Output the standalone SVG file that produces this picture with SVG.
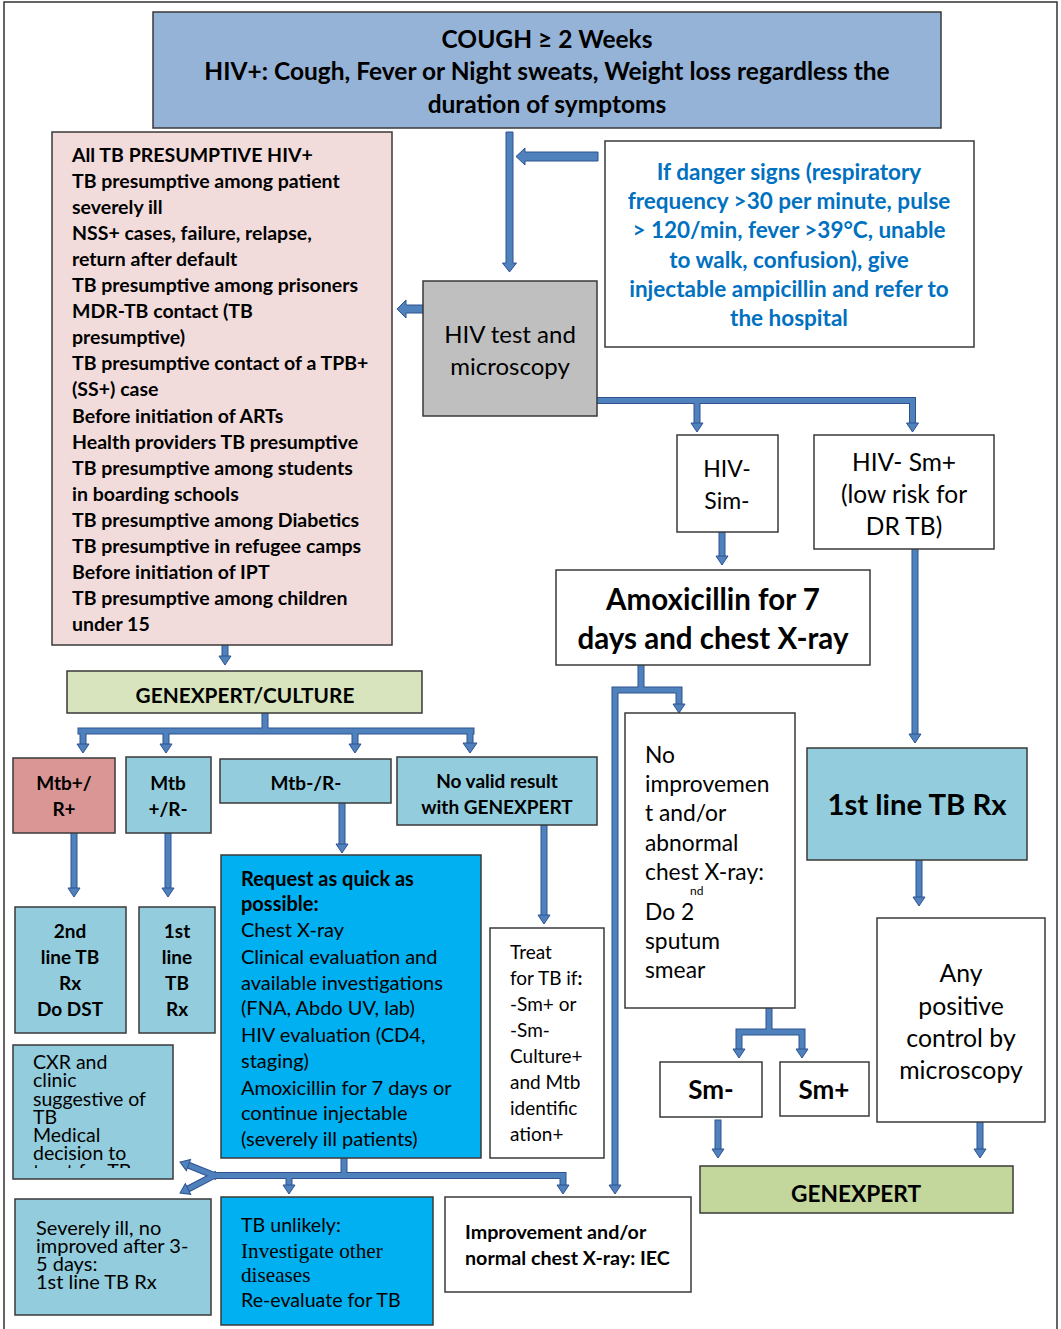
<svg xmlns="http://www.w3.org/2000/svg" xmlns:xlink="http://www.w3.org/1999/xlink" width="1061" height="1329" viewBox="0 0 1061 1329">
  <style>
    .box { stroke: #3a3a3a; stroke-width: 1.5; }
    .white { fill: #ffffff; }
    .steel { fill: #95b3d7; }
    .pink { fill: #f2dcdb; }
    .grey { fill: #bfbfbf; }
    .olive { fill: #d7e4bd; }
    .rose { fill: #d99694; }
    .aqua { fill: #93cddd; }
    .cyan { fill: #00b0f0; }
    .lime { fill: #c3d69b; }
    text { font-family: Lato, "Open Sans", "Liberation Sans", sans-serif; fill: #000; }
    .b { font-weight: bold; }
    .c { text-anchor: middle; }
    .serif { font-family: "Liberation Serif", "Times New Roman", serif; }
    .danger { fill: #0070c0; font-weight: bold; font-size: 22.5px; text-anchor: middle; }
    .wire-edge { fill: none; stroke: #2f528f; stroke-width: 7; stroke-linecap: square; }
    .wire-fill { fill: none; stroke: #4f81bd; stroke-width: 5; stroke-linecap: square; }
    .head, .block { fill: #4f81bd; stroke: #2f528f; stroke-width: 1; stroke-linejoin: miter; }
  </style>
  <defs>
    <path id="hd" d="M-6,-9 H6 L0,0 Z"/>
    <path id="hdw" d="M-7,-10 H7 L0,0 Z"/>
    <path id="wires" d="
      M597 400.5 H912.5 V423 M697 400.5 V423
      M722 535 V556
      M915 549 V734
      M641 665 V690 M615 690 H679 V704 M615 690 V1185
      M919 860 V897
      M769 1008 V1032 M739 1032 H802 M739 1032 V1049 M802 1032 V1049
      M718 1123 V1149
      M980 1122 V1149
      M225 647 V656
      M265 713 V731 M81 731 H471 M83 731 V744 M166 731 V744 M355 731 V744 M470 731 V743
      M74 835 V888 M168 835 V888
      M342 803 V844
      M544 825 V915
      M344 1158 V1175.5 M216 1175.5 H563 M289 1175.5 V1185 M563 1175.5 V1185
      M214 1175.5 L188 1165 M214 1175.5 L188 1189"/>
    <clipPath id="cxr-clip">
      <rect x="14" y="1046" width="158" height="122"/>
    </clipPath>
  </defs>

  <!-- outer frame -->
  <rect x="4" y="2" width="1053" height="1340" fill="#ffffff" stroke="#333" stroke-width="1.5"/>

  <!-- connectors -->
  <g id="connectors">
    <use href="#wires" class="wire-edge"/>
    <use href="#wires" class="wire-fill"/>
    <polygon class="block" points="506,132 513,132 513,263 516.5,263 509.5,272 502.5,263 506,263"/>
    <polygon class="block" points="598,152 598,161 525,161 525,165 516,156.5 525,148 525,152"/>
    <polygon class="block" points="423,305 423,313 406,313 406,318 397,309 406,300 406,305"/>
    <g class="head">
      <use href="#hd" x="697" y="432"/>
      <use href="#hd" x="912.5" y="432"/>
      <use href="#hd" x="722" y="565"/>
      <use href="#hd" x="915" y="743"/>
      <use href="#hd" x="679" y="713"/>
      <use href="#hd" x="615" y="1194"/>
      <use href="#hd" x="919" y="906"/>
      <use href="#hd" x="739" y="1058"/>
      <use href="#hd" x="802" y="1058"/>
      <use href="#hd" x="718" y="1158"/>
      <use href="#hd" x="980" y="1158"/>
      <use href="#hd" x="225" y="665"/>
      <use href="#hd" x="83" y="753"/>
      <use href="#hd" x="166" y="753"/>
      <use href="#hd" x="355" y="753"/>
      <use href="#hdw" x="470" y="753"/>
      <use href="#hd" x="74" y="897"/>
      <use href="#hd" x="168" y="897"/>
      <use href="#hd" x="342" y="853"/>
      <use href="#hd" x="544" y="924"/>
      <use href="#hd" x="289" y="1194"/>
      <use href="#hd" x="563" y="1194"/>
      <use href="#hd" transform="translate(180,1162) rotate(110.4)"/>
      <use href="#hd" transform="translate(180,1193) rotate(63.4)"/>
    </g>
  </g>

  <!-- nodes -->
  <g id="cough">
    <rect class="box steel" x="153" y="12" width="788" height="116"/>
    <text class="b c" x="547" y="48" font-size="24.5">COUGH ≥ 2 Weeks</text>
    <text class="b c" x="547" y="80" font-size="24.5">HIV+: Cough, Fever or Night sweats, Weight loss regardless the</text>
    <text class="b c" x="547" y="113" font-size="24.5">duration of symptoms</text>
  </g>

  <g id="presumptive">
    <rect class="box pink" x="52" y="132" width="340" height="513"/>
    <g class="b" font-size="19.5">
      <text x="72" y="162">All TB PRESUMPTIVE HIV+</text>
      <text x="72" y="188">TB presumptive among patient</text>
      <text x="72" y="214">severely ill</text>
      <text x="72" y="240">NSS+ cases, failure, relapse,</text>
      <text x="72" y="266">return after default</text>
      <text x="72" y="292">TB presumptive among prisoners</text>
      <text x="72" y="318">MDR-TB contact (TB</text>
      <text x="72" y="344">presumptive)</text>
      <text x="72" y="370">TB presumptive contact of a TPB+</text>
      <text x="72" y="396">(SS+) case</text>
      <text x="72" y="423">Before initiation of ARTs</text>
      <text x="72" y="449">Health providers TB presumptive</text>
      <text x="72" y="475">TB presumptive among students</text>
      <text x="72" y="501">in boarding schools</text>
      <text x="72" y="527">TB presumptive among Diabetics</text>
      <text x="72" y="553">TB presumptive in refugee camps</text>
      <text x="72" y="579">Before initiation of IPT</text>
      <text x="72" y="605">TB presumptive among children</text>
      <text x="72" y="631">under 15</text>
    </g>
  </g>

  <g id="danger-signs">
    <rect class="box white" x="605" y="141" width="369" height="206"/>
    <text class="danger" x="789" y="180">If danger signs (respiratory</text>
    <text class="danger" x="789" y="209">frequency &gt;30 per minute, pulse</text>
    <text class="danger" x="789" y="238">&gt; 120/min, fever &gt;39°C, unable</text>
    <text class="danger" x="789" y="268">to walk, confusion), give</text>
    <text class="danger" x="789" y="297">injectable ampicillin and refer to</text>
    <text class="danger" x="789" y="326">the hospital</text>
  </g>

  <g id="hiv-test">
    <rect class="box grey" x="423" y="281" width="174" height="135"/>
    <text class="c" x="510" y="343" font-size="24">HIV test and</text>
    <text class="c" x="510" y="375" font-size="24">microscopy</text>
  </g>

  <g id="hiv-neg-sm-neg">
    <rect class="box white" x="677" y="435" width="101" height="97"/>
    <text class="c" x="727" y="477" font-size="23">HIV-</text>
    <text class="c" x="727" y="509" font-size="23">Sim-</text>
  </g>

  <g id="hiv-neg-sm-pos">
    <rect class="box white" x="814" y="435" width="180" height="114"/>
    <text class="c" x="904" y="471" font-size="24.5">HIV- Sm+</text>
    <text class="c" x="904" y="503" font-size="24.5">(low risk for</text>
    <text class="c" x="904" y="535" font-size="24.5">DR TB)</text>
  </g>

  <g id="amoxicillin">
    <rect class="box white" x="556" y="570" width="314" height="95"/>
    <text class="b c" x="713" y="610" font-size="29.5">Amoxicillin for 7</text>
    <text class="b c" x="713" y="649" font-size="29.5">days and chest X-ray</text>
  </g>

  <g id="genexpert-culture">
    <rect class="box olive" x="67" y="671" width="355" height="42"/>
    <text class="b c" x="245" y="703" font-size="20.8">GENEXPERT/CULTURE</text>
  </g>

  <g id="mtb-pos-r-pos">
    <rect class="box rose" x="13" y="758" width="102" height="75"/>
    <text class="b c" x="64" y="790" font-size="19">Mtb+/</text>
    <text class="b c" x="64" y="816" font-size="19">R+</text>
  </g>

  <g id="mtb-pos-r-neg">
    <rect class="box aqua" x="126" y="757" width="85" height="76"/>
    <text class="b c" x="168" y="790" font-size="19">Mtb</text>
    <text class="b c" x="168" y="816" font-size="19">+/R-</text>
  </g>

  <g id="mtb-neg">
    <rect class="box aqua" x="220" y="759" width="171" height="44"/>
    <text class="b c" x="306" y="790" font-size="19">Mtb-/R-</text>
  </g>

  <g id="no-valid">
    <rect class="box aqua" x="397" y="757" width="200" height="68"/>
    <text class="b c" x="497" y="788" font-size="19">No valid result</text>
    <text class="b c" x="497" y="814" font-size="19">with GENEXPERT</text>
  </g>

  <g id="no-improvement">
    <rect class="box white" x="625" y="713" width="170" height="295"/>
    <g font-size="22.8">
      <text x="645" y="763">No</text>
      <text x="645" y="792">improvemen</text>
      <text x="645" y="821">t and/or</text>
      <text x="645" y="851">abnormal</text>
      <text x="645" y="880">chest X-ray:</text>
      <text x="690" y="895" font-size="12">nd</text>
      <text x="645" y="920">Do 2</text>
      <text x="645" y="949">sputum</text>
      <text x="645" y="978">smear</text>
    </g>
  </g>

  <g id="first-line-rx">
    <rect class="box aqua" x="807" y="748" width="220" height="112"/>
    <text class="b c" x="917" y="815" font-size="29.3">1st line TB Rx</text>
  </g>

  <g id="second-line">
    <rect class="box aqua" x="15" y="907" width="111" height="126"/>
    <g class="b c" font-size="19">
      <text x="70" y="938">2nd</text>
      <text x="70" y="964">line TB</text>
      <text x="70" y="990">Rx</text>
      <text x="70" y="1016">Do DST</text>
    </g>
  </g>

  <g id="first-line-small">
    <rect class="box aqua" x="139" y="907" width="76" height="126"/>
    <g class="b c" font-size="19">
      <text x="177" y="938">1st</text>
      <text x="177" y="964">line</text>
      <text x="177" y="990">TB</text>
      <text x="177" y="1016">Rx</text>
    </g>
  </g>

  <g id="request">
    <rect class="box cyan" x="221" y="855" width="260" height="303"/>
    <g font-size="20">
      <text class="b" x="241" y="886">Request as quick as</text>
      <text class="b" x="241" y="911">possible:</text>
      <text x="241" y="937">Chest X-ray</text>
      <text x="241" y="964">Clinical evaluation and</text>
      <text x="241" y="990">available investigations</text>
      <text x="241" y="1015">(FNA, Abdo UV, lab)</text>
      <text x="241" y="1042">HIV evaluation (CD4,</text>
      <text x="241" y="1068">staging)</text>
      <text x="241" y="1095">Amoxicillin for 7 days or</text>
      <text x="241" y="1120">continue injectable</text>
      <text x="241" y="1146">(severely ill patients)</text>
    </g>
  </g>

  <g id="treat">
    <rect class="box white" x="490" y="928" width="114" height="230"/>
    <g font-size="19">
      <text x="510" y="959">Treat</text>
      <text x="510" y="985">for TB if<tspan class="b">:</tspan></text>
      <text x="510" y="1011">-Sm+ or</text>
      <text x="510" y="1037">-Sm-</text>
      <text x="510" y="1063">Culture+</text>
      <text x="510" y="1089">and Mtb</text>
      <text x="510" y="1115">identific</text>
      <text x="510" y="1141">ation+</text>
    </g>
  </g>

  <g id="sm-neg">
    <rect class="box white" x="660" y="1062" width="102" height="55"/>
    <text class="b c" x="711" y="1099" font-size="26">Sm-</text>
  </g>

  <g id="sm-pos">
    <rect class="box white" x="780" y="1062" width="89" height="54"/>
    <text class="b c" x="824" y="1099" font-size="26">Sm+</text>
  </g>

  <g id="any-positive">
    <rect class="box white" x="877" y="918" width="168" height="204"/>
    <g class="c" font-size="24.8">
      <text x="961" y="982">Any</text>
      <text x="961" y="1015">positive</text>
      <text x="961" y="1047">control by</text>
      <text x="961" y="1079">microscopy</text>
    </g>
  </g>

  <g id="cxr-clinic">
    <rect class="box aqua" x="13" y="1045" width="160" height="134"/>
    <g clip-path="url(#cxr-clip)" font-size="19.5">
      <text x="33" y="1069">CXR and</text>
      <text x="33" y="1087">clinic</text>
      <text x="33" y="1106">suggestive of</text>
      <text x="33" y="1124">TB</text>
      <text x="33" y="1142">Medical</text>
      <text x="33" y="1160">decision to</text>
      <text x="33" y="1178">treat for TB</text>
    </g>
  </g>

  <g id="genexpert">
    <rect class="box lime" x="700" y="1166" width="313" height="47"/>
    <text class="b c" x="856" y="1202" font-size="22.7">GENEXPERT</text>
  </g>

  <g id="severely-ill">
    <rect class="box aqua" x="15" y="1199" width="196" height="116"/>
    <g font-size="20">
      <text x="36" y="1235">Severely ill, no</text>
      <text x="36" y="1253">improved after 3-</text>
      <text x="36" y="1271">5 days:</text>
      <text x="36" y="1289">1st line TB Rx</text>
    </g>
  </g>

  <g id="tb-unlikely">
    <rect class="box cyan" x="221" y="1197" width="212" height="128"/>
    <text x="241" y="1232" font-size="19.6">TB unlikely:</text>
    <text class="serif" x="241" y="1258" font-size="21.2">Investigate other</text>
    <text class="serif" x="241" y="1282" font-size="21.2">diseases</text>
    <text x="241" y="1307" font-size="19.6">Re-evaluate for TB</text>
  </g>

  <g id="improvement">
    <rect class="box white" x="445" y="1197" width="246" height="95"/>
    <text class="b" x="465" y="1239" font-size="19.7">Improvement and/or</text>
    <text class="b" x="465" y="1265" font-size="19.7">normal chest X-ray: IEC</text>
  </g>
</svg>
